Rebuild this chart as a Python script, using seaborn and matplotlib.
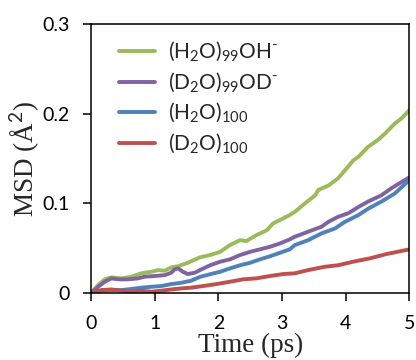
import numpy as np
import pandas as pd
import matplotlib
matplotlib.use("Agg")
import matplotlib.pyplot as plt
import seaborn as sns

# ------------------------------------------
# data (time in ps, MSD in A^2)
# ------------------------------------------
t_oh = [0, 0.11, 0.215, 0.32, 0.48, 0.63, 0.79, 0.95, 1.05, 1.16, 1.26, 1.37, 1.52, 1.71, 1.87,
        2.03, 2.18, 2.34, 2.44, 2.60, 2.76, 2.86, 3.02, 3.12, 3.20, 3.36, 3.52, 3.57, 3.73, 3.88,
        3.99, 4.12, 4.20, 4.35, 4.51, 4.62, 4.77, 4.88, 5.0]
msd_oh = [0, 0.0089, 0.0153, 0.0175, 0.0164, 0.0182, 0.022, 0.0238, 0.0256, 0.0249, 0.0286, 0.030,
          0.0338, 0.0398, 0.0424, 0.046, 0.0535, 0.059, 0.058, 0.0647, 0.070, 0.0777, 0.0833, 0.087,
          0.0906, 0.100, 0.109, 0.115, 0.120, 0.128, 0.137, 0.148, 0.152, 0.163, 0.171, 0.178,
          0.189, 0.195, 0.204]

t_od = [0, 0.11, 0.215, 0.32, 0.42, 0.58, 0.74, 0.84, 1.0, 1.16, 1.26, 1.31, 1.37, 1.44, 1.52,
        1.63, 1.71, 1.87, 2.03, 2.18, 2.34, 2.50, 2.65, 2.81, 2.97, 3.12, 3.20, 3.41, 3.62, 3.73,
        3.88, 4.04, 4.20, 4.35, 4.56, 4.72, 4.88, 5.0]
msd_od = [0, 0.007, 0.0126, 0.0164, 0.0153, 0.0153, 0.0164, 0.0182, 0.019, 0.020, 0.0227, 0.0264,
          0.0275, 0.0238, 0.0212, 0.0227, 0.0256, 0.031, 0.035, 0.0375, 0.0424, 0.046, 0.0487,
          0.0516, 0.0554, 0.0598, 0.0628, 0.0684, 0.074, 0.0795, 0.085, 0.089, 0.096, 0.102, 0.109,
          0.117, 0.124, 0.129]

t_h2o = [0, 0.16, 0.32, 0.48, 0.63, 0.79, 0.95, 1.10, 1.26, 1.42, 1.57, 1.71, 1.87, 2.03, 2.18,
         2.34, 2.50, 2.65, 2.81, 2.97, 3.12, 3.20, 3.41, 3.62, 3.83, 3.99, 4.20, 4.35, 4.56, 4.77, 5.0]
msd_h2o = [0, 0.0026, 0.0033, 0.0033, 0.0045, 0.006, 0.007, 0.0078, 0.010, 0.0115, 0.0137, 0.018,
           0.021, 0.0238, 0.0275, 0.031, 0.0338, 0.0375, 0.041, 0.045, 0.0487, 0.0535, 0.059,
           0.0665, 0.072, 0.0795, 0.087, 0.094, 0.102, 0.111, 0.126]

t_d2o = [0, 0.16, 0.32, 0.48, 0.63, 0.79, 0.95, 1.10, 1.26, 1.42, 1.57, 1.76, 1.97, 2.18, 2.39,
         2.60, 2.81, 3.02, 3.20, 3.41, 3.67, 3.88, 4.12, 4.38, 4.64, 5.0]
msd_d2o = [0, 0.0033, 0.004, 0.0026, 0.0015, 0.0026, 0.0015, 0.0026, 0.004, 0.0052, 0.006, 0.0078,
           0.010, 0.0126, 0.0153, 0.0164, 0.019, 0.0212, 0.022, 0.0256, 0.0293, 0.031, 0.035,
           0.0387, 0.0435, 0.0487]

labels = [r"(H$_\mathregular{2}$O)$_\mathregular{99}$OH$^\text{-}$",
          r"(D$_\mathregular{2}$O)$_\mathregular{99}$OD$^\text{-}$",
          r"(H$_\mathregular{2}$O)$_\mathregular{100}$",
          r"(D$_\mathregular{2}$O)$_\mathregular{100}$"]
colors = ["#9BBB59", "#8064A2", "#4F81BD", "#C0504D"]

# long-form table for seaborn
frames = []
for lab, t, m in zip(labels, [t_oh, t_od, t_h2o, t_d2o], [msd_oh, msd_od, msd_h2o, msd_d2o]):
    frames.append(pd.DataFrame({"time": t, "msd": m, "system": lab}))
df = pd.concat(frames, ignore_index=True)

# ------------------------------------------
# plot
# ------------------------------------------
sns.set_theme(style="ticks")
plt.rcParams["font.family"] = ["Lato", "DejaVu Sans"]
plt.rcParams["mathtext.fontset"] = "custom"
plt.rcParams["mathtext.rm"] = "Lato"

fig, ax = plt.subplots(figsize=(4.16, 3.6), dpi=100)
fig.subplots_adjust(left=0.219, right=0.984, bottom=0.186, top=0.933)

sns.lineplot(data=df, x="time", y="msd", hue="system", palette=colors,
             linewidth=2.8, ax=ax, sort=False)

ax.set_xlim(0, 5)
ax.set_ylim(0, 0.3)
ax.set_xticks([0, 1, 2, 3, 4, 5])
ax.set_yticks([0, 0.1, 0.2, 0.3])
ax.set_yticklabels(["0", "0.1", "0.2", "0.3"])
ax.tick_params(axis="both", direction="out", length=5.5, width=1.1, pad=10,
               labelsize=14, colors="black")
for sp in ax.spines.values():
    sp.set_visible(True)
    sp.set_linewidth(1.1)
    sp.set_color("black")

ax.set_xlabel("Time (ps)", fontsize=19.5, family="Liberation Serif", labelpad=1)
ax.set_ylabel("MSD (Å$^{2}$)", fontsize=19.5, family="Liberation Serif", labelpad=0)

leg = ax.legend(loc="upper left", bbox_to_anchor=(0.03, 1.01), frameon=False,
                fontsize=15, handlelength=1.7, handletextpad=0.65, labelspacing=0.3)

plt.savefig("out.png", dpi=100)
